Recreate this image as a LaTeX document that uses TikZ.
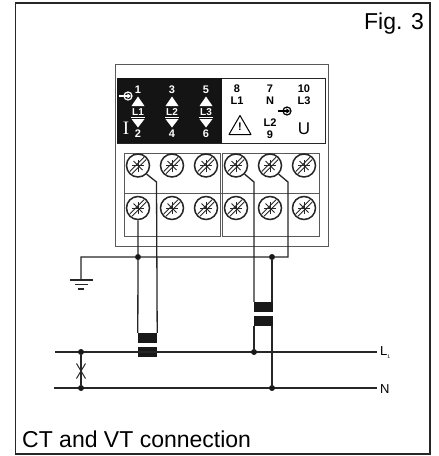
\documentclass[tikz,border=0pt]{standalone}
\usepackage{fontspec}
\setmainfont{Liberation Sans}
\usetikzlibrary{positioning}
\tikzset{
    wire/.style = {line width = 1.3pt,draw = black!85},
    casing/.style = {line width = 0.9pt,draw = black!65},
    dot/.style = {circle,fill = black!90,inner sep = 0pt,minimum size = 6pt},
    corebar/.style = {rectangle,fill = black!90,inner sep = 0pt,minimum width = 19pt,minimum height = 10pt},
    screw/.style = {circle,draw = black!85,line width = 1.5pt,inner sep = 0pt,minimum size = 23pt,
        path picture = {
            \draw[black!85,line width = 0.8pt] ([shift = {(-8.2pt,-6pt)}]path picture bounding box.center) -- ([shift = {(6pt,8.2pt)}]path picture bounding box.center);
            \draw[black!85,line width = 0.8pt] ([shift = {(-6pt,-8.2pt)}]path picture bounding box.center) -- ([shift = {(8.2pt,6pt)}]path picture bounding box.center);
            \draw[black!85,line width = 0.8pt] ([shift = {(-6pt,0pt)}]path picture bounding box.center) -- ([shift = {(6pt,0pt)}]path picture bounding box.center);
            \draw[black!85,line width = 0.8pt] ([shift = {(0pt,-6pt)}]path picture bounding box.center) -- ([shift = {(0pt,6pt)}]path picture bounding box.center);
            \draw[black!85,line width = 0.8pt] ([shift = {(-4.5pt,4.5pt)}]path picture bounding box.center) -- ([shift = {(4.5pt,-4.5pt)}]path picture bounding box.center);
        }},
    tlabel/.style = {inner sep = 0pt,font = {\fontsize{11}{12}\selectfont\bfseries}},
    caption/.style = {inner sep = 0pt,font = {\fontsize{23}{25}\selectfont}}
}
% one circle with the arrow entering it
\newcommand{\inmark}[3]{
    \draw[#3,line width = 1.2pt] (#1,#2) circle (4);
    \draw[#3,line width = 1.2pt] (#1-9,#2) -- (#1+1,#2);
    \fill[#3] (#1+3,#2) -- (#1-0.6,#2-2.6) -- (#1-0.6,#2+2.6) -- cycle;
}
\begin{document}
\begin{tikzpicture}[x = 1pt,y = -1pt]
    \useasboundingbox (0,0) rectangle (439,456);
    % frame
    \draw[line width = 1.5pt,draw = black!85] (15.5,3) rectangle (430,454);
    \node[caption,anchor = base east] (figlabel) at (424,29) {Fig. 3};
    \node[caption,anchor = base west] (conlabel) at (22,447) {CT and VT connection};

    % instrument
    \draw[casing] (115,64) rectangle (328,246);
    \draw[line width = 0.8pt,draw = black!85] (117,78) rectangle (325,143);
    \fill[black!92] (117,78) rectangle (222,143);
    \draw[casing] (124,153) rectangle (220.5,236);
    \draw[casing] (222.5,153) rectangle (319,236);
    \draw[casing] (124,193) -- (319,193);

    % black half of the plate
    \foreach \x/\a/\b/\l in {138/1/2/L1,172/3/4/L2,206/5/6/L3}{
        \fill[white] (\x,96.5) -- (\x+6.5,106) -- (\x-6.5,106) -- cycle;
        \fill[white] (\x,127.5) -- (\x+6.5,119) -- (\x-6.5,119) -- cycle;
        \node[tlabel,text = white] (t\a) at (\x,90) {\a};
        \node[tlabel,text = white] (t\b) at (\x,134) {\b};
        \node[tlabel,text = white,font = {\fontsize{10}{11}\selectfont\bfseries}] (c\l) at (\x,112) {\l};
        \draw[white,line width = 0.8pt] (\x-7,117) -- (\x+7,117);
    }
    \inmark{128}{96}{white}
    \node[inner sep = 0pt,text = white,font = {\fontsize{19}{20}\selectfont\fontspec{Liberation Serif}}] (curr) at (126,128) {I};

    % white half of the plate
    \foreach \x/\y/\t in {237/89/8,237/101/L1,270/89/7,270/101/N,304/89/10,304/101/L3,270/123/L2,270/134.5/9}
        \node[tlabel] (v\t) at (\x,\y) {\t};
    \inmark{287}{111}{black}
    \draw[line width = 1pt,line join = round] (240,115.5) -- (251,134.5) -- (229,134.5) -- cycle;
    \node[tlabel] (warn) at (240,127) {!};
    \node[inner sep = 0pt,font = {\fontsize{17}{18}\selectfont}] (volt) at (304,129) {U};

    % terminals
    \foreach \n/\x/\y in {1/138/165.5,2/172/165.5,3/206/165.5,4/236/165.5,5/270/165.5,6/304/165.5,7/138/208,8/172/208,9/206/208,10/236/208,11/270/208,12/304/208}
        \node[screw] (scr\n) at (\x,\y) {};

    % transformers
    \node[corebar] (ctUp) at (147.5,338) {};
    \node[corebar] (ctLow) at (147.5,352) {};
    \node[corebar] (vtUp) at (263,307) {};
    \node[corebar] (vtLow) at (263,320.5) {};

    % lines
    \coordinate (l1w) at (55,352);
    \coordinate (l1e) at (377,352);
    \coordinate (nw) at (54,388);
    \coordinate (ne) at (377,388);
    \node[inner sep = 0pt,anchor = west,font = {\fontsize{13}{14}\selectfont}] (l1lab) at (380,353) {L\raisebox{-3pt}{\fontsize{5}{6}\selectfont 1}};
    \node[inner sep = 0pt,anchor = west,font = {\fontsize{13}{14}\selectfont}] (nlab) at (380,389) {N};
    \draw[wire] (l1w) -- (l1e);
    \draw[wire] (nw) -- (ne);

    \node[dot] (sh1) at (81,352) {};
    \node[dot] (sh2) at (81,388) {};
    \node[dot] (lv) at (254,352) {};
    \node[dot] (nv) at (272,388) {};
    \node[dot] (gc) at (138,257) {};
    \node[dot] (gv) at (272,257) {};

    % shorting link
    \draw[wire] (sh1) -- (sh2);
    \draw[line width = 1pt,draw = black!85] (76.5,363.5) -- (85.5,378.5);
    \draw[line width = 1pt,draw = black!85] (85.5,363.5) -- (76.5,378.5);

    % wiring
    \draw[wire] (scr7.south) -- (gc) -- (ctUp.north west);
    \draw[wire] (scr1.-45) -- (156.5,182) -- (ctUp.north east);
    \draw[wire] (scr4.-45) -- (254,182) -- (vtUp.north west -| lv);
    \draw[wire] (scr5.-45) -- (288,182) -- (288,257) -- (gv) -- (gc) -- (81,257) -- (81,280);
    \draw[wire] (gv) -- (vtUp.north -| nv);
    \draw[wire] (vtLow.south -| lv) -- (lv);
    \draw[wire] (vtLow.south -| nv) -- (nv);

    % earth
    \draw[wire] (70,280) -- (93,280);
    \draw[wire] (75,284.5) -- (88,284.5);
    \draw[wire] (78,289) -- (84,289);
\end{tikzpicture}
\end{document}
